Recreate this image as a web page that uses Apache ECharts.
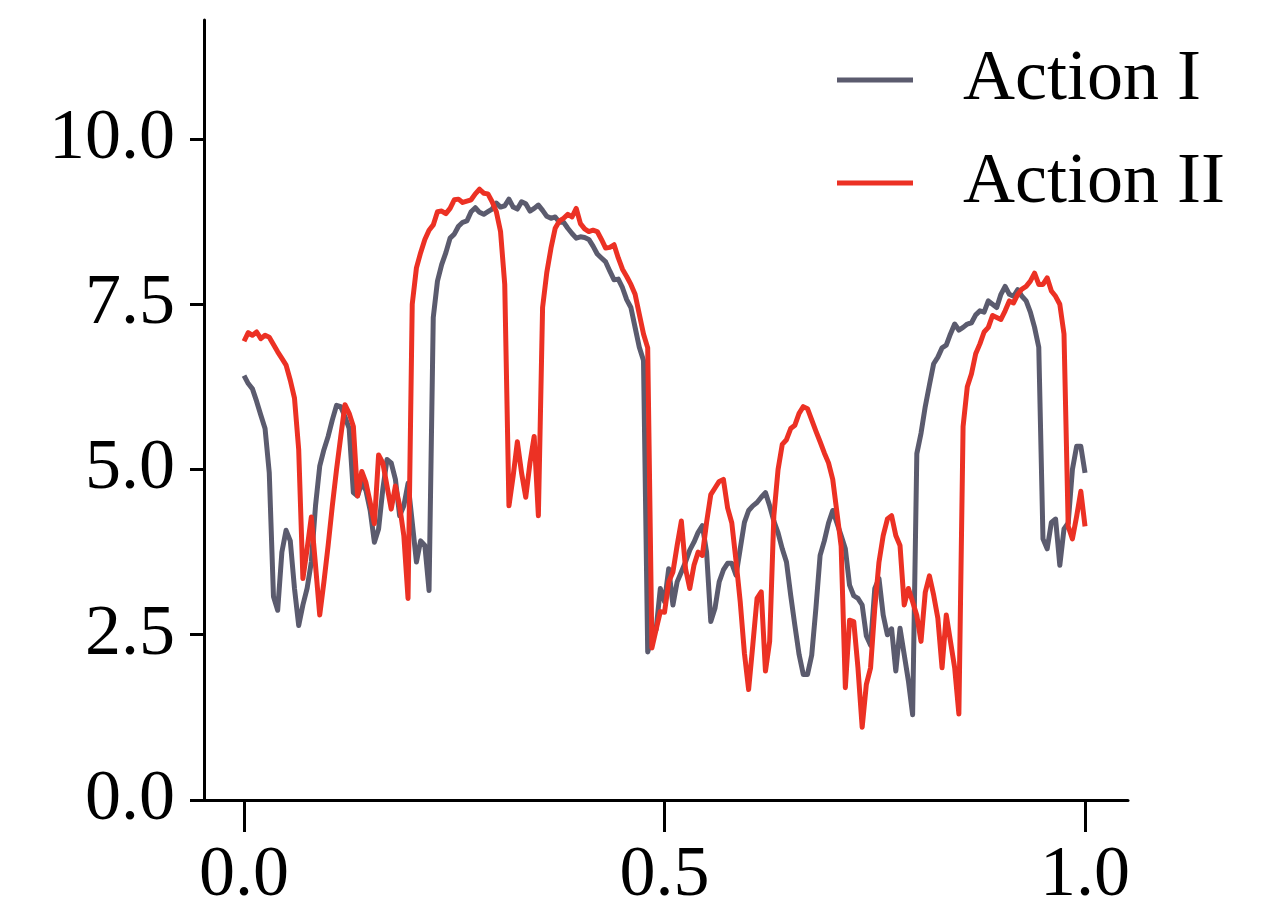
<!DOCTYPE html>
<html>
<head>
<meta charset="utf-8">
<script src="https://cdn.jsdelivr.net/npm/echarts@6/dist/echarts.min.js"></script>
<style>
  html, body { margin: 0; padding: 0; background: #ffffff; }
  #chart { width: 1261px; height: 912px; }
</style>
</head>
<body>
<div id="chart"></div>
<script>
// Two action signals sampled at 201 evenly spaced positions on [0, 1].
const sampleCount = 201;

const seriesNames = ['Action I', 'Action II'];

const actionI = [
  6.42, 6.30, 6.22, 6.03, 5.82, 5.62, 4.95, 3.08, 2.87, 3.75,
  4.08, 3.92, 3.20, 2.64, 2.95, 3.20, 3.60, 4.45, 5.05, 5.30,
  5.50, 5.75, 5.97, 5.95, 5.80, 5.62, 4.65, 4.60, 4.80, 4.68,
  4.38, 3.90, 4.10, 4.70, 5.15, 5.10, 4.85, 4.30, 4.45, 4.79,
  4.20, 3.60, 3.92, 3.85, 3.17, 7.30, 7.85, 8.10, 8.28, 8.50,
  8.56, 8.68, 8.74, 8.76, 8.90, 8.96, 8.89, 8.86, 8.90, 8.94,
  9.03, 8.97, 8.99, 9.09, 8.97, 8.94, 9.05, 9.02, 8.91, 8.95,
  9.00, 8.92, 8.83, 8.80, 8.82, 8.74, 8.74, 8.65, 8.57, 8.50,
  8.52, 8.51, 8.48, 8.38, 8.26, 8.20, 8.14, 8.00, 7.87, 7.88,
  7.75, 7.57, 7.45, 7.15, 6.85, 6.65, 2.24, 2.45, 2.58, 3.20,
  3.00, 3.50, 2.95, 3.30, 3.45, 3.60, 3.78, 3.90, 4.05, 4.15,
  3.75, 2.70, 2.90, 3.30, 3.48, 3.58, 3.58, 3.40, 3.80, 4.20,
  4.38, 4.45, 4.50, 4.58, 4.65, 4.45, 4.22, 4.04, 3.80, 3.60,
  3.10, 2.64, 2.20, 1.90, 1.90, 2.19, 2.90, 3.70, 3.92, 4.19,
  4.38, 4.19, 4.00, 3.80, 3.25, 3.09, 3.05, 2.95, 2.48, 2.34,
  3.20, 3.35, 2.80, 2.50, 2.59, 1.95, 2.60, 2.20, 1.80, 1.29,
  5.24, 5.55, 5.95, 6.28, 6.60, 6.70, 6.84, 6.88, 7.05, 7.20,
  7.11, 7.15, 7.20, 7.22, 7.34, 7.40, 7.38, 7.55, 7.50, 7.45,
  7.65, 7.77, 7.65, 7.62, 7.72, 7.62, 7.55, 7.38, 7.15, 6.85,
  3.95, 3.80, 4.20, 4.25, 3.55, 4.10, 4.19, 5.00, 5.35, 5.35,
  4.95
];

const actionII = [
  6.94, 7.07, 7.03, 7.08, 6.98, 7.03, 7.00, 6.89, 6.78, 6.68,
  6.58, 6.35, 6.08, 5.30, 3.35, 3.80, 4.28, 3.55, 2.80, 3.30,
  3.85, 4.45, 5.00, 5.50, 5.98, 5.85, 5.65, 4.60, 4.97, 4.80,
  4.50, 4.18, 5.22, 5.10, 4.75, 4.40, 4.75, 4.45, 4.00, 3.05,
  7.50, 8.05, 8.28, 8.48, 8.62, 8.70, 8.90, 8.91, 8.87, 8.95,
  9.08, 9.09, 9.04, 9.06, 9.08, 9.17, 9.24, 9.18, 9.17, 9.05,
  8.90, 8.60, 7.80, 4.45, 4.90, 5.42, 4.95, 4.58, 5.10, 5.50,
  4.30, 7.45, 7.98, 8.35, 8.65, 8.76, 8.80, 8.86, 8.82, 8.95,
  8.72, 8.64, 8.60, 8.62, 8.60, 8.48, 8.35, 8.36, 8.40, 8.20,
  8.03, 7.92, 7.80, 7.65, 7.35, 7.05, 6.84, 2.30, 2.58, 2.85,
  2.84, 3.30, 3.45, 3.85, 4.22, 3.50, 3.20, 3.55, 3.75, 3.70,
  4.20, 4.62, 4.72, 4.82, 4.85, 4.42, 4.19, 3.62, 3.00, 2.22,
  1.67, 2.35, 3.05, 3.15, 1.95, 2.40, 4.30, 5.00, 5.38, 5.45,
  5.62, 5.67, 5.85, 5.95, 5.92, 5.75, 5.58, 5.42, 5.25, 5.10,
  4.85, 4.35, 3.84, 1.70, 2.72, 2.70, 2.00, 1.10, 1.75, 2.00,
  2.90, 3.60, 4.00, 4.25, 4.30, 4.00, 3.85, 2.95, 3.20, 3.00,
  2.79, 2.40, 3.14, 3.39, 3.10, 2.75, 2.00, 2.80, 2.40, 2.00,
  1.30, 5.65, 6.25, 6.45, 6.75, 6.90, 7.08, 7.15, 7.33, 7.30,
  7.27, 7.40, 7.55, 7.52, 7.65, 7.73, 7.77, 7.85, 7.97, 7.80,
  7.80, 7.90, 7.70, 7.62, 7.50, 7.05, 4.14, 3.95, 4.29, 4.67,
  4.14
];

const xTicks = [0, 0.5, 1.0];
const yTicks = [0, 2.5, 5.0, 7.5, 10.0];

const seriesColors = ['#5b5b6e', '#ec3124'];

const xRange = [-0.0476, 1.0511];
const yRange = [0, 11.8];

function pairs(values) {
  return values.map((v, i) => [i / (sampleCount - 1), v]);
}

const FONT = '"Liberation Serif", "Times New Roman", Times, serif';

const chart = echarts.init(document.getElementById('chart'), null, { renderer: 'canvas' });

chart.setOption({
  animation: false,
  backgroundColor: '#ffffff',
  grid: { left: 204, right: 133, top: 20, bottom: 106, containLabel: false },
  legend: {
    orient: 'vertical',
    left: 832,
    top: 39,
    itemWidth: 76,
    itemHeight: 5,
    itemGap: 31,
    icon: 'rect',
    data: seriesNames,
    textStyle: {
      fontFamily: FONT,
      fontSize: 72,
      lineHeight: 72,
      color: '#000000',
      padding: [0, 0, 0, 45]
    }
  },
  xAxis: {
    type: 'value',
    min: xRange[0],
    max: xRange[1],
    splitLine: { show: false },
    axisLine: { show: true, onZero: false, lineStyle: { color: '#000000', width: 3 } },
    axisTick: {
      show: true, inside: false, length: 32,
      customValues: xTicks,
      lineStyle: { color: '#000000', width: 3 }
    },
    axisLabel: {
      customValues: xTicks,
      margin: 40,
      fontFamily: FONT,
      fontSize: 72,
      color: '#000000',
      formatter: v => Number(v).toFixed(1)
    }
  },
  yAxis: {
    type: 'value',
    min: yRange[0],
    max: yRange[1],
    splitLine: { show: false },
    axisLine: { show: true, onZero: false, lineStyle: { color: '#000000', width: 3 } },
    axisTick: {
      show: true, inside: false, length: 14,
      customValues: yTicks,
      lineStyle: { color: '#000000', width: 3 }
    },
    axisLabel: {
      customValues: yTicks,
      margin: 29,
      fontFamily: FONT,
      fontSize: 72,
      color: '#000000',
      formatter: v => Number(v).toFixed(1)
    }
  },
  series: [
    {
      name: seriesNames[0],
      type: 'line',
      data: pairs(actionI),
      symbol: 'none',
      smooth: false,
      color: seriesColors[0],
      lineStyle: { color: seriesColors[0], width: 5, join: 'round' },
      z: 2
    },
    {
      name: seriesNames[1],
      type: 'line',
      data: pairs(actionII),
      symbol: 'none',
      smooth: false,
      color: seriesColors[1],
      lineStyle: { color: seriesColors[1], width: 5, join: 'round' },
      z: 3
    }
  ]
});
</script>
</body>
</html>
